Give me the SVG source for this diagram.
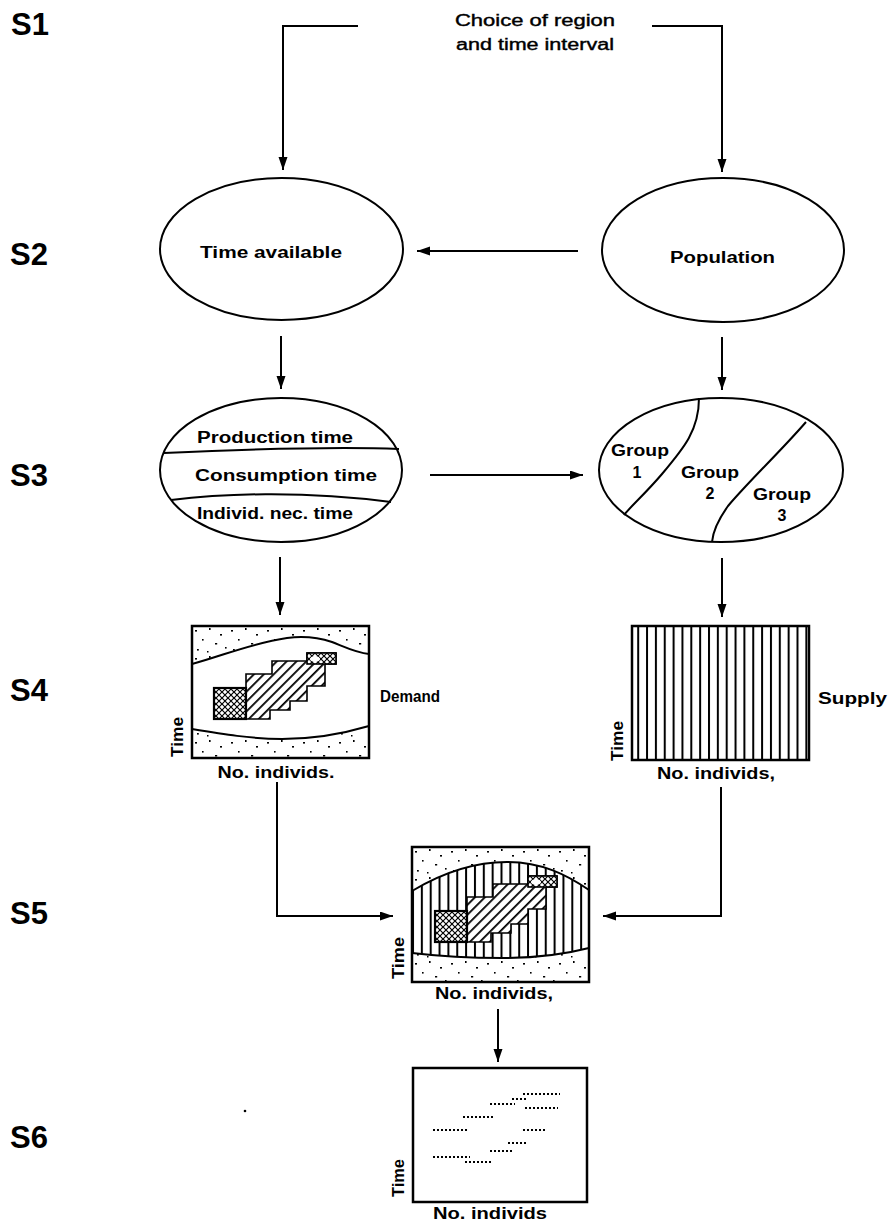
<svg xmlns="http://www.w3.org/2000/svg" width="889" height="1221" viewBox="0 0 889 1221">
<style>
.t{font-family:"Liberation Sans",Arial,sans-serif;font-weight:bold;fill:#000}
.tn{font-family:"Liberation Sans",Arial,sans-serif;font-weight:normal;fill:#000;stroke:#000;stroke-width:0.4}
.st{font-size:31px}
.lb{font-size:16px}
.ln{stroke:#000;stroke-width:2;fill:none}
.bx{stroke:#000;stroke-width:2.5;fill:none}
.el{stroke:#000;stroke-width:2;fill:#fff}
.dl{stroke:#000;stroke-width:1.8;stroke-dasharray:2 2;fill:none}
</style>
<defs>
<marker id="ar" markerUnits="userSpaceOnUse" markerWidth="14" markerHeight="10" refX="13" refY="4.5" orient="auto">
<path d="M0,0 L13,4.5 L0,9 Z" fill="#000"/>
</marker>
<pattern id="dots" patternUnits="userSpaceOnUse" width="36" height="28">
<rect x="3" y="4" width="2" height="1.6" fill="#000"/>
<rect x="17" y="2" width="1.6" height="2" fill="#000"/>
<rect x="28" y="8" width="2" height="1.6" fill="#000"/>
<rect x="10" y="13" width="1.6" height="1.6" fill="#000"/>
<rect x="23" y="17" width="2.2" height="1.5" fill="#000"/>
<rect x="33" y="21" width="1.6" height="1.6" fill="#000"/>
<rect x="5" y="23" width="1.8" height="1.6" fill="#000"/>
<rect x="15" y="25" width="1.5" height="1.5" fill="#000"/>
</pattern>
<pattern id="vert" patternUnits="userSpaceOnUse" width="8.85" height="10">
<rect x="0" y="0" width="2" height="10" fill="#000"/>
</pattern>
<pattern id="diag" patternUnits="userSpaceOnUse" width="7" height="7" patternTransform="rotate(45)">
<rect x="0" y="0" width="1.8" height="7" fill="#000"/>
</pattern>
<pattern id="cross" patternUnits="userSpaceOnUse" width="6" height="6">
<path d="M0,0 L6,6 M6,0 L0,6" stroke="#000" stroke-width="1.2"/>
</pattern>
<g id="stairs">
<polygon points="54,48 80,48 80,35 115,35 115,27 144,27 144,38 133,38 133,60 115,60 115,75 98,75 98,84 78,84 78,93 54,93" fill="#fff"/>
<polygon points="54,48 80,48 80,35 115,35 115,27 144,27 144,38 133,38 133,60 115,60 115,75 98,75 98,84 78,84 78,93 54,93" fill="url(#diag)" stroke="#000" stroke-width="1.6"/>
<rect x="22" y="62" width="32" height="31" fill="#fff"/>
<rect x="22" y="62" width="32" height="31" fill="url(#cross)" stroke="#000" stroke-width="2.2"/>
<rect x="115" y="27" width="29" height="11" fill="#fff"/>
<rect x="115" y="27" width="29" height="11" fill="url(#cross)" stroke="#000" stroke-width="1.6"/>
<ellipse cx="123" cy="33" rx="5" ry="3" fill="#fff"/>
</g>
</defs>
<rect width="889" height="1221" fill="#fff"/>

<g id="stage-labels">
<text class="t st" x="11" y="35">S1</text>
<text class="t st" x="10" y="265">S2</text>
<text class="t st" x="10" y="486">S3</text>
<text class="t st" x="10" y="701">S4</text>
<text class="t st" x="10" y="924">S5</text>
<text class="t st" x="10" y="1148">S6</text>
</g>

<g id="connectors">
<path class="ln" d="M358,26 H283 V170" marker-end="url(#ar)"/>
<path class="ln" d="M652,26 H722 V172" marker-end="url(#ar)"/>
<path class="ln" d="M578,251 H417" marker-end="url(#ar)"/>
<path class="ln" d="M281,336 V389" marker-end="url(#ar)"/>
<path class="ln" d="M722,337 V390" marker-end="url(#ar)"/>
<path class="ln" d="M430,475 H583" marker-end="url(#ar)"/>
<path class="ln" d="M280,557 V615" marker-end="url(#ar)"/>
<path class="ln" d="M722,558 V617" marker-end="url(#ar)"/>
<path class="ln" d="M277,782 V916 H393" marker-end="url(#ar)"/>
<path class="ln" d="M721,787 V916 H603" marker-end="url(#ar)"/>
<path class="ln" d="M498,1009 V1062" marker-end="url(#ar)"/>
</g>

<g id="node-choice">
<text class="tn" x="535" y="26" font-size="16" text-anchor="middle" textLength="160" lengthAdjust="spacingAndGlyphs">Choice of region</text>
<text class="tn" x="535" y="50" font-size="16" text-anchor="middle" textLength="158" lengthAdjust="spacingAndGlyphs">and time interval</text>
</g>

<g id="node-time-available">
<ellipse class="el" cx="281.5" cy="249" rx="121.5" ry="71"/>
<text class="t lb" x="200" y="258" textLength="142" lengthAdjust="spacingAndGlyphs">Time available</text>
</g>

<g id="node-population">
<ellipse class="el" cx="723" cy="250" rx="121" ry="72"/>
<text class="t lb" x="670" y="263" textLength="105" lengthAdjust="spacingAndGlyphs">Population</text>
</g>

<g id="node-time-split">
<ellipse class="el" cx="281" cy="470" rx="121" ry="72"/>
<path class="ln" d="M164,453 C230,450 330,446 399,449"/>
<path class="ln" d="M171,500 C220,494 300,490 391,502"/>
<text class="t lb" x="197" y="443" textLength="156" lengthAdjust="spacingAndGlyphs">Production time</text>
<text class="t lb" x="195" y="481" textLength="182" lengthAdjust="spacingAndGlyphs">Consumption time</text>
<text class="t lb" x="197" y="519" textLength="156" lengthAdjust="spacingAndGlyphs">Individ. nec. time</text>
</g>

<g id="node-groups">
<ellipse class="el" cx="721" cy="470" rx="122" ry="72"/>
<path class="ln" d="M699,398 C699,430 684,448 662,474 C645,494 632,505 624,515"/>
<path class="ln" d="M806,422 C780,452 750,480 728,506 C718,520 713,530 712,542"/>
<text class="t lb" x="640" y="456" text-anchor="middle" textLength="58" lengthAdjust="spacingAndGlyphs">Group</text>
<text class="t lb" x="637" y="478" text-anchor="middle">1</text>
<text class="t lb" x="710" y="478" text-anchor="middle" textLength="58" lengthAdjust="spacingAndGlyphs">Group</text>
<text class="t lb" x="710" y="499" text-anchor="middle">2</text>
<text class="t lb" x="782" y="500" text-anchor="middle" textLength="58" lengthAdjust="spacingAndGlyphs">Group</text>
<text class="t lb" x="782" y="521" text-anchor="middle">3</text>
</g>

<g id="node-demand">
<g transform="translate(192,626)">
<path d="M0,0 H177 V28 C165,27 155,22 140,16 C125,11 110,10 95,12 C60,17 30,30 0,38 Z" fill="url(#dots)"/>
<path class="ln" d="M177,28 C165,27 155,22 140,16 C125,11 110,10 95,12 C60,17 30,30 0,38"/>
<path d="M0,103 C30,108 60,113 90,113 C120,113 150,108 177,100 V132 H0 Z" fill="url(#dots)"/>
<path class="ln" d="M0,103 C30,108 60,113 90,113 C120,113 150,108 177,100"/>
<use href="#stairs"/>
<rect class="bx" x="0" y="0" width="177" height="132"/>
</g>
<text class="t lb" x="380" y="702" textLength="60" lengthAdjust="spacingAndGlyphs">Demand</text>
<text class="t lb" x="276" y="778" text-anchor="middle" textLength="117" lengthAdjust="spacingAndGlyphs">No. individs.</text>
<text class="t lb" transform="translate(183,737) rotate(-90)" text-anchor="middle" textLength="40" lengthAdjust="spacingAndGlyphs">Time</text>
</g>

<g id="node-supply">
<rect x="632" y="626" width="177" height="134" fill="url(#vert)"/>
<rect class="bx" x="632" y="626" width="177" height="134"/>
<text class="t lb" x="818" y="704" textLength="69" lengthAdjust="spacingAndGlyphs">Supply</text>
<text class="t lb" x="716" y="779" text-anchor="middle" textLength="118" lengthAdjust="spacingAndGlyphs">No. individs,</text>
<text class="t lb" transform="translate(623,741) rotate(-90)" text-anchor="middle" textLength="40" lengthAdjust="spacingAndGlyphs">Time</text>
</g>

<g id="node-match">
<g transform="translate(412,847)">
<path d="M0,0 H177 V43 C155,28 130,15 95,15 C60,15 30,26 0,44 Z" fill="url(#dots)"/>
<path d="M0,44 C30,26 60,15 95,15 C130,15 155,28 177,43 V101 C150,108 120,111 90,111 C55,111 25,109 0,106 Z" fill="url(#vert)"/>
<path class="ln" d="M0,44 C30,26 60,15 95,15 C130,15 155,28 177,43"/>
<path d="M0,106 C25,109 55,111 90,111 C120,111 150,108 177,101 V135 H0 Z" fill="url(#dots)"/>
<path class="ln" d="M0,106 C25,109 55,111 90,111 C120,111 150,108 177,101"/>
<use href="#stairs" transform="translate(1,2)"/>
<rect class="bx" x="0" y="0" width="177" height="135"/>
</g>
<text class="t lb" x="494" y="999" text-anchor="middle" textLength="118" lengthAdjust="spacingAndGlyphs">No. individs,</text>
<text class="t lb" transform="translate(404,958) rotate(-90)" text-anchor="middle" textLength="42" lengthAdjust="spacingAndGlyphs">Time</text>
</g>

<g id="node-result">
<rect class="bx" x="413" y="1068" width="174" height="134"/>
<path class="dl" d="M523,1094 H560 M512,1099 H528 M490,1104 H515 M525,1108 H558 M463,1117 H495 M433,1130 H468 M523,1130 H547 M508,1143 H528 M490,1151 H512 M433,1157 H470 M465,1162 H493"/>
<text class="t lb" x="490" y="1219" text-anchor="middle" textLength="114" lengthAdjust="spacingAndGlyphs">No. individs</text>
<text class="t lb" transform="translate(404,1178) rotate(-90)" text-anchor="middle" textLength="38" lengthAdjust="spacingAndGlyphs">Time</text>
</g>
<circle cx="245" cy="1111" r="1.3" fill="#000"/>
</svg>
